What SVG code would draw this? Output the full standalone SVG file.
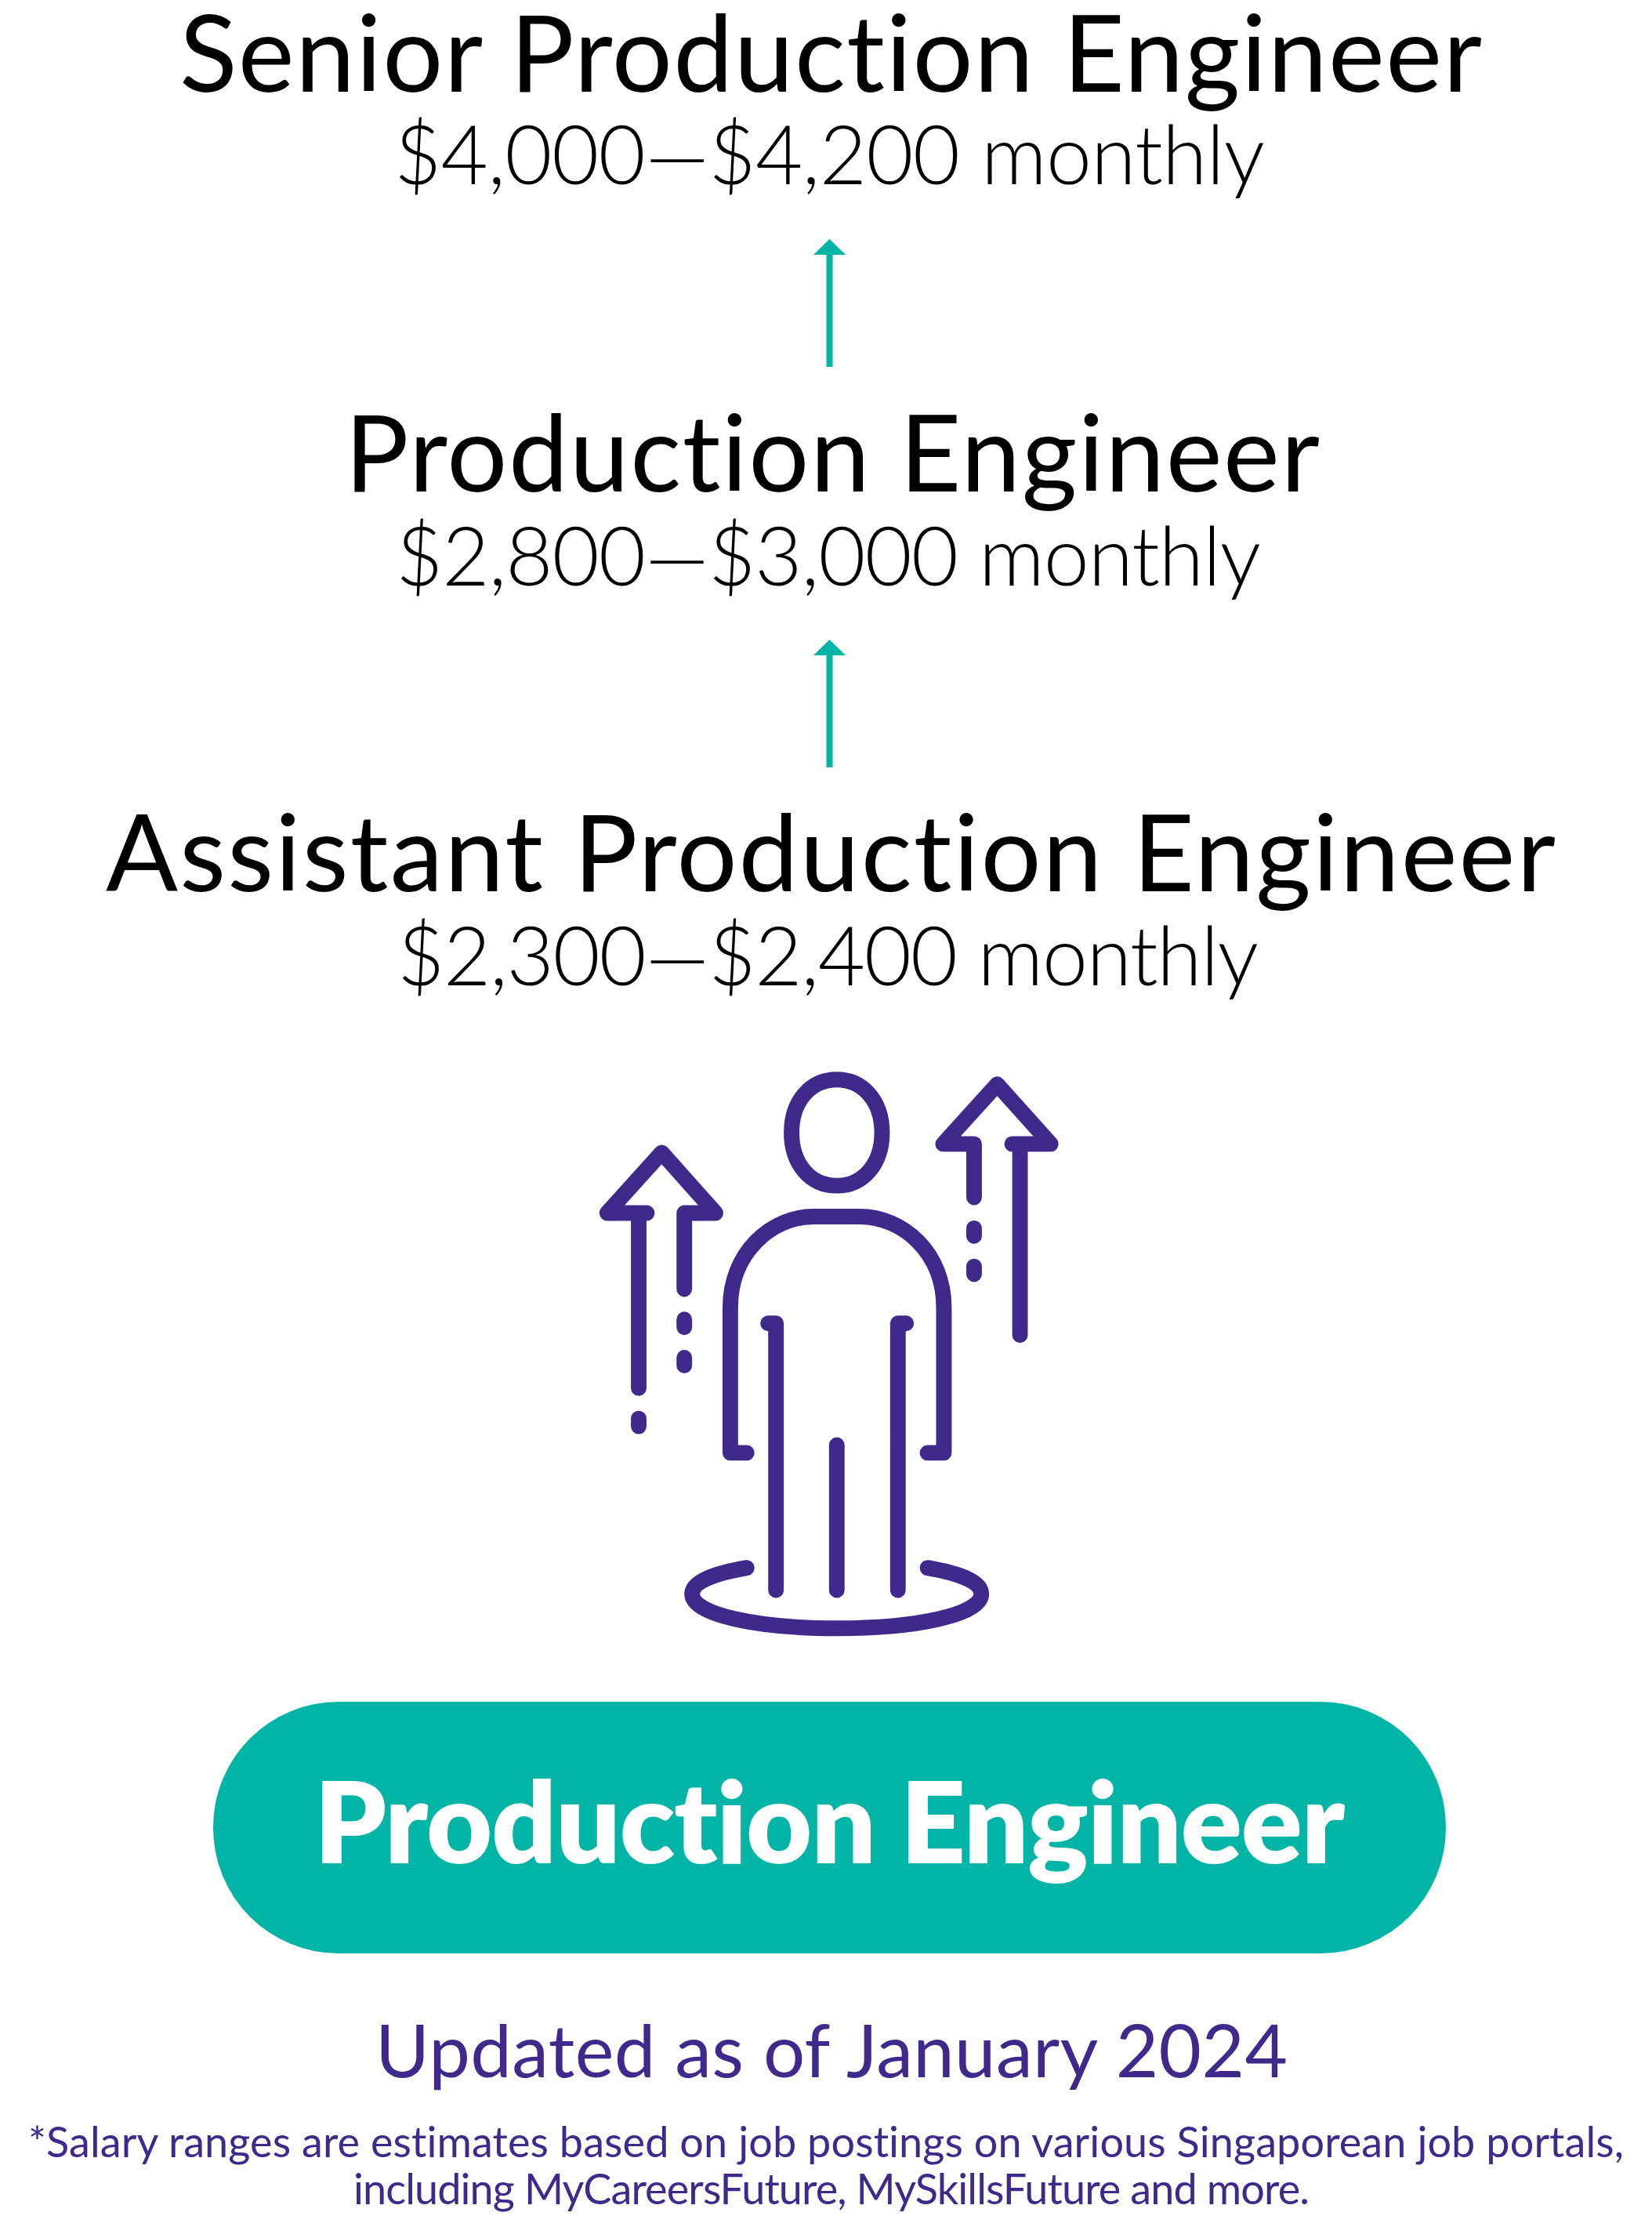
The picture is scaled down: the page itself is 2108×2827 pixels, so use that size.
<svg xmlns="http://www.w3.org/2000/svg" width="2108" height="2827" viewBox="0 0 2108 2827">
<style>
text{font-family:"Lato","Noto Sans",sans-serif;font-variant-ligatures:none}
.t{font-size:136px;fill:#000}
.s{font-size:104px;fill:#000;font-weight:300}
.i{fill:none;stroke:#3f2a8c;stroke-width:20;stroke-linecap:round;stroke-linejoin:round}
.a{stroke:#00b5a5;stroke-width:8;fill:none}
.h{fill:#00b5a5}
.f{fill:#3f2a8c}
</style>
<rect width="2108" height="2827" fill="#fff"/>
<g id="node-senior"><text class="t" x="229" y="117" textLength="1662">Senior Production Engineer</text><text class="s" x="503" y="235" textLength="1111">$4,000—$4,200 monthly</text></g>
<g id="node-production"><text class="t" x="440" y="627" textLength="1244">Production Engineer</text><text class="s" x="505" y="747" textLength="1104">$2,800—$3,000 monthly</text></g>
<g id="node-assistant"><text class="t" x="135" y="1137" textLength="1850">Assistant Production Engineer</text><text class="s" x="507" y="1257" textLength="1099">$2,300—$2,400 monthly</text></g>
<g id="connectors">
<path class="a" d="M1058.500 468V320"/><path class="h" d="M1038 325L1058.500 305L1079 325Z"/>
<path class="a" d="M1058.500 979V831"/><path class="h" d="M1038 836L1058.500 816L1079 836Z"/>
</g>
<g id="icon" transform="translate(3.740 6.700) scale(0.9948 0.995)">
<path class="i" d="M1069.600 1377.500C1103 1377.500 1127.600 1405 1127.600 1445.500C1127.600 1486 1103 1513.500 1069.600 1513.500C1036 1513.500 1011.600 1486 1011.600 1445.500C1011.600 1405 1036 1377.500 1069.600 1377.500Z"/>
<path class="i" d="M954 1856H933V1670C933 1600 985 1553 1040 1553H1099C1155 1553 1207 1600 1207 1670V1856H1186"/>
<path class="i" d="M981.500 1690H991.600V2032M1158.500 1690H1148V2032M1069.600 1846V2032"/>
<path class="i" d="M954 2003.500C910 2011 884 2022 884 2037C884 2064 970 2081 1070 2081C1170 2081 1255 2064 1255 2037C1255 2022 1230 2011 1186 2003.500"/>
<path class="i" d="M815.500 1773V1548.500M826 1548.500H775L845 1471L914 1548.500H874V1646M874 1685V1695M874 1734V1744M815.500 1812V1822"/>
<path class="i" d="M1304.600 1705V1460M1294.500 1460H1344L1275.400 1383.500L1206 1460H1245.700V1528.500M1245.700 1568V1578M1245.700 1617V1627"/>
</g>
<g id="node-badge"><rect x="272" y="2171" width="1573" height="321" rx="160" fill="#00b5a5"/><text x="401" y="2377" font-size="145" font-weight="800" fill="#fff" textLength="1315">Production Engineer</text></g>
<g id="footer">
<text class="f" x="479" y="2650" font-size="94" textLength="1164">Updated as of January 2024</text>
<text class="f" x="36" y="2752" font-size="54" textLength="2036">*Salary ranges are estimates based on job postings on various Singaporean job portals,</text>
<text class="f" x="451" y="2812" font-size="54" textLength="1220">including MyCareersFuture, MySkillsFuture and more.</text>
</g>
</svg>
